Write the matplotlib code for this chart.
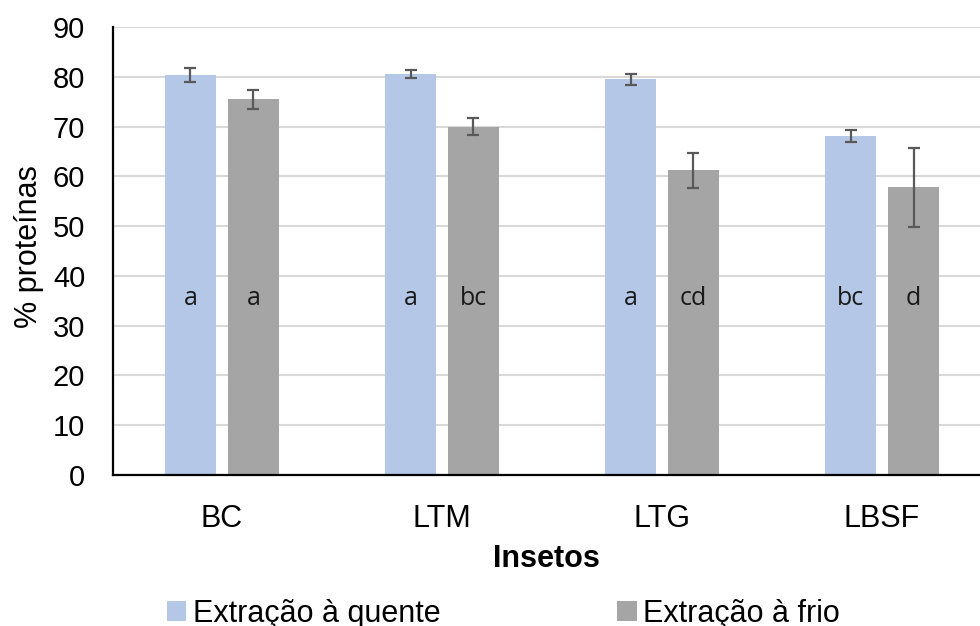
import matplotlib.pyplot as plt
import numpy as np

plt.rcParams['font.family'] = ['Liberation Sans', 'DejaVu Sans']

insetos = ['BC', 'LTM', 'LTG', 'LBSF']
quente = [80.4, 80.6, 79.5, 68.1]
quente_err = [1.4, 0.8, 1.1, 1.3]
frio = [75.5, 70.0, 61.2, 57.8]
frio_err = [1.9, 1.7, 3.5, 7.9]
letras_quente = ['a', 'a', 'a', 'bc']
letras_frio = ['a', 'bc', 'cd', 'd']

fig = plt.figure(figsize=(9.8, 6.26), dpi=100)
ax = fig.add_axes([0.1153, 0.2412, 0.8847, 0.7157])

x = np.arange(len(insetos))
w = 0.232
off = 0.143
ekw = dict(ecolor='#595959', elinewidth=1.6, capsize=4.5, capthick=1.6)
ax.bar(x - off, quente, w, color='#b4c7e7', yerr=quente_err, error_kw=ekw,
       label='Extração à quente', zorder=2)
ax.bar(x + off, frio, w, color='#a5a5a5', yerr=frio_err, error_kw=ekw,
       label='Extração à frio', zorder=2)

# letras de significancia
for i in range(len(insetos)):
    ax.text(x[i] - off, 35.5, letras_quente[i], ha='center', va='center',
            fontsize=18, family=['Open Sans', 'DejaVu Sans'], color='#1a1a1a')
    ax.text(x[i] + off, 35.5, letras_frio[i], ha='center', va='center',
            fontsize=18, family=['Open Sans', 'DejaVu Sans'], color='#1a1a1a')

ax.set_xlim(-0.495, 3.445)
ax.set_ylim(0, 90)
ax.set_yticks(range(0, 91, 10))
ax.set_xticks(x)
ax.set_xticklabels(insetos)
ax.tick_params(length=0, labelsize=21)
ax.tick_params(axis='y', pad=20)
ax.tick_params(axis='x', labelsize=22, pad=21)
ax.grid(axis='y', color='#d9d9d9', lw=1.5, zorder=0)
ax.set_axisbelow(True)
for s in ['top', 'right']:
    ax.spines[s].set_visible(False)
for s in ['left', 'bottom']:
    ax.spines[s].set_linewidth(1.6)
ax.set_ylabel('% proteínas', fontsize=22)
ax.yaxis.set_label_coords(-0.08, 0.51)
ax.set_xlabel('Insetos', fontsize=22, fontweight='bold')
ax.xaxis.set_label_coords(0.5, -0.155)

fig.legend(loc='center left', bbox_to_anchor=(0.17, 0.019), ncol=2, frameon=False,
           fontsize=22, handlelength=0.65, handleheight=0.62, handletextpad=0.2,
           columnspacing=5.8, borderpad=0, borderaxespad=0)

fig.savefig('out.png', dpi=100)
